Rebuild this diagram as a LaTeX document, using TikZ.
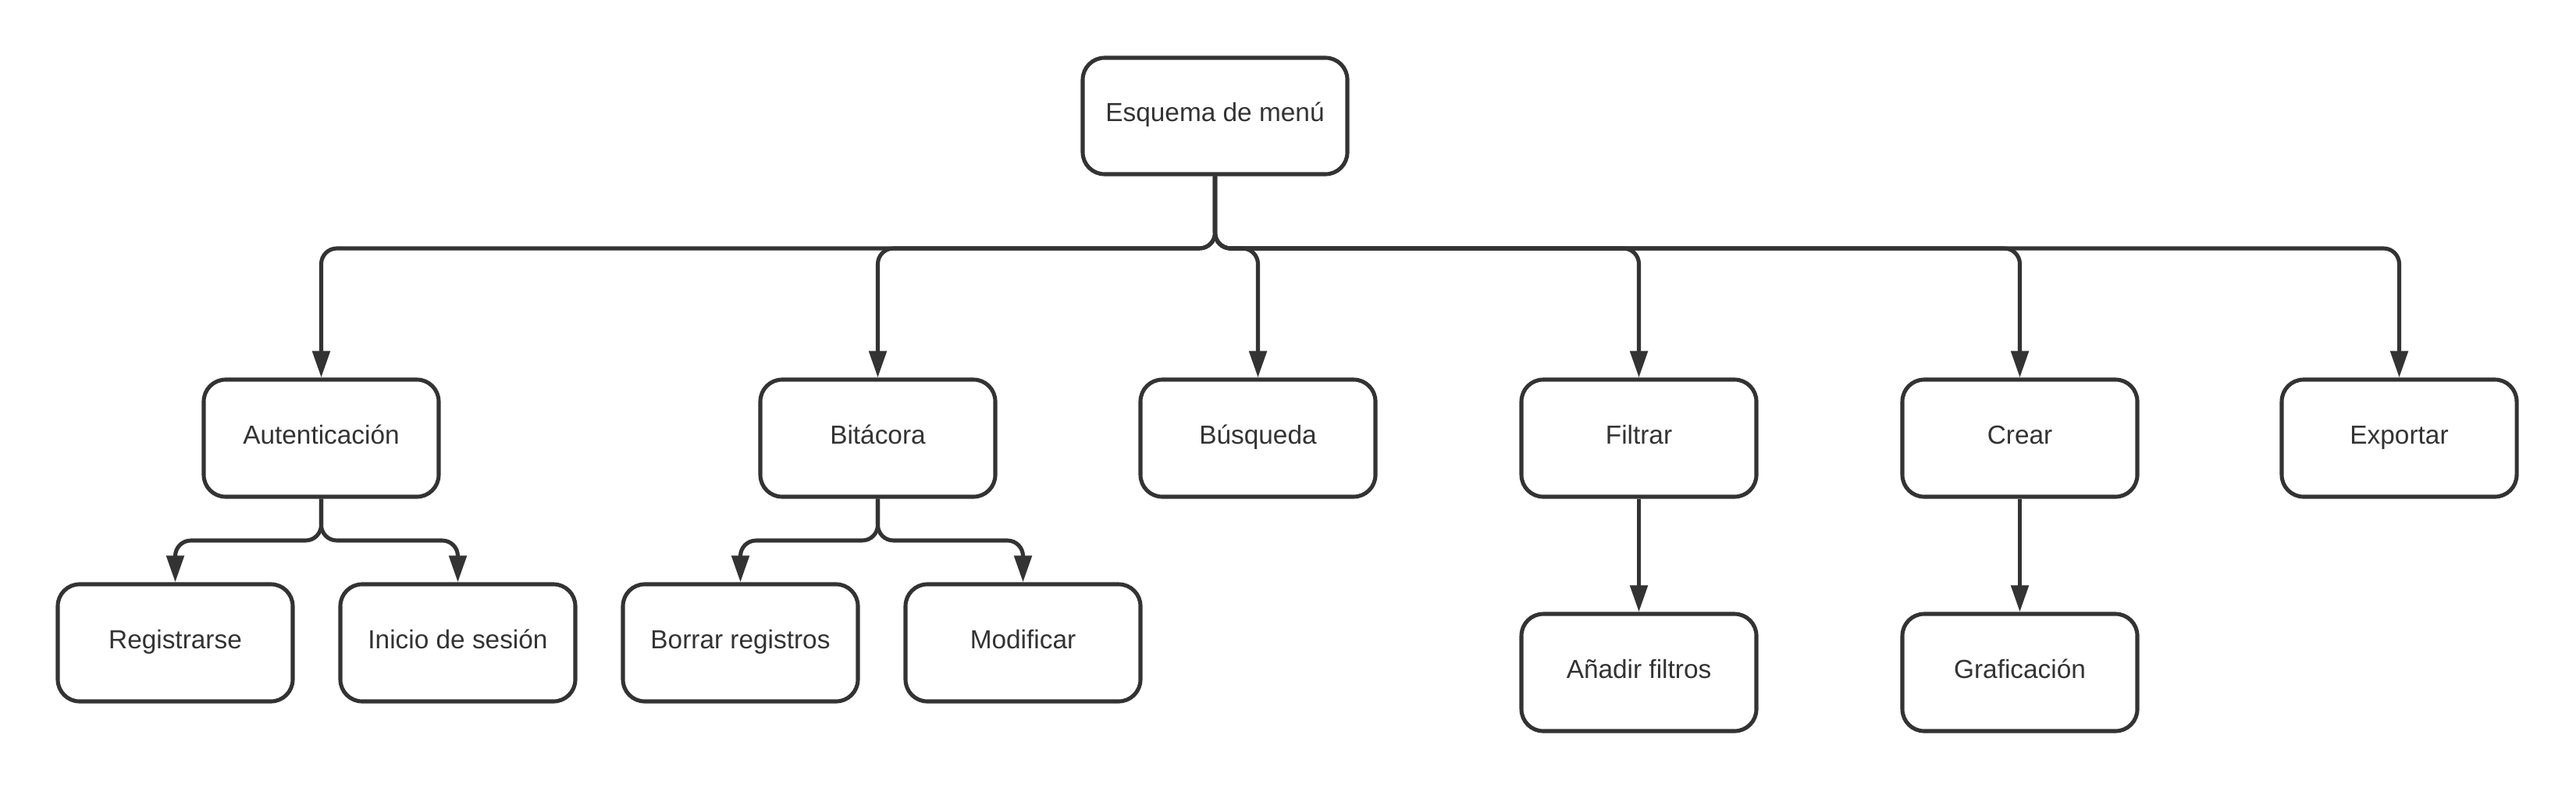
\documentclass[tikz,border=0pt]{standalone}
\usepackage{fontspec}
\setmainfont{Liberation Sans}
\usetikzlibrary{arrows.meta}
\definecolor{ink}{HTML}{333333}
\tikzset{
  box/.style={draw=ink, line width=1.45pt, rounded corners=0.28cm, fill=white,
    minimum width=3.01cm, minimum height=1.50cm, text=ink, font=\fontsize{9.5}{11}\selectfont, inner sep=0pt,
    text height=0.62em, text depth=0.2em},
  topbox/.style={box, minimum width=3.39cm, minimum height=1.49cm},
  conn/.style={draw=ink, line width=1.45pt, rounded corners=0.2cm,
    -{Triangle[length=0.34cm, width=0.22cm]}}
}
\begin{document}
\begin{tikzpicture}
\useasboundingbox (0,0) rectangle (33,-10.13);
\node[topbox] (top) at (15.565,-1.485) {Esquema de menú};
\node[box] (aut) at (4.115,-5.61) {Autenticación};
\node[box] (bit) at (11.245,-5.61) {Bitácora};
\node[box] (bus) at (16.115,-5.61) {Búsqueda};
\node[box] (fil) at (20.995,-5.61) {Filtrar};
\node[box] (cre) at (25.875,-5.61) {Crear};
\node[box] (exp) at (30.735,-5.61) {Exportar};
\node[box] (reg) at (2.245,-8.23) {Registrarse};
\node[box] (ini) at (5.865,-8.23) {Inicio de sesión};
\node[box] (bor) at (9.485,-8.23) {Borrar registros};
\node[box] (mod) at (13.105,-8.23) {Modificar};
\node[box] (ana) at (20.995,-8.61) {Añadir filtros};
\node[box] (gra) at (25.875,-8.61) {Graficación};
\coordinate (b1) at (0,-3.18);
\coordinate (b2) at (0,-6.92);
\foreach \n in {aut,bit,bus,fil,cre,exp}
  \draw[conn] (top.south) -- (top.south |- b1) -- (\n.north |- b1) -- (\n.north);
\foreach \n in {reg,ini}
  \draw[conn] (aut.south) -- (aut.south |- b2) -- (\n.north |- b2) -- (\n.north);
\foreach \n in {bor,mod}
  \draw[conn] (bit.south) -- (bit.south |- b2) -- (\n.north |- b2) -- (\n.north);
\draw[conn] (fil.south) -- (ana.north);
\draw[conn] (cre.south) -- (gra.north);
\end{tikzpicture}
\end{document}
